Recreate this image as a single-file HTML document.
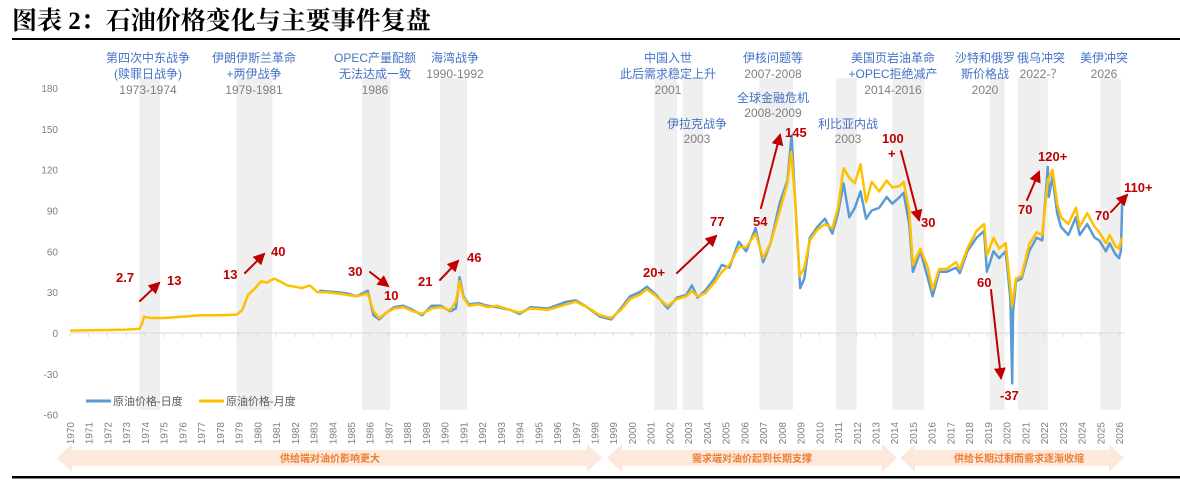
<!DOCTYPE html>
<html><head><meta charset="utf-8"><style>
body{margin:0;background:#fff;}
svg{display:block;font-family:"Liberation Sans","Noto Sans CJK SC",sans-serif;}
</style></head><body>
<svg id="chart" width="1180" height="484" viewBox="0 0 1180 484" xmlns="http://www.w3.org/2000/svg">
<text x="12" y="29" font-family="'Liberation Serif','Noto Serif CJK SC',serif" font-weight="bold" font-size="25" fill="#000">图表 2：石油价格变化与主要事件复盘</text>
<rect x="12" y="38" width="1168" height="2" fill="#000"/>
<g id="bands"></g><g id="axes"></g><g id="series"></g>
<g id="events" font-size="12" text-anchor="middle">
<g><text x="148" y="62" fill="#4472C4">第四次中东战争</text><text x="148" y="78" fill="#4472C4">(赎罪日战争)</text><text x="148" y="94" fill="#7f7f7f">1973-1974</text></g>
<g><text x="254" y="62" fill="#4472C4">伊朗伊斯兰革命</text><text x="254" y="78" fill="#4472C4">+两伊战争</text><text x="254" y="94" fill="#7f7f7f">1979-1981</text></g>
<g><text x="375" y="62" fill="#4472C4">OPEC产量配额</text><text x="375" y="78" fill="#4472C4">无法达成一致</text><text x="375" y="94" fill="#7f7f7f">1986</text></g>
<g><text x="455" y="62" fill="#4472C4">海湾战争</text><text x="455" y="78" fill="#7f7f7f">1990-1992</text></g>
<g><text x="668" y="62" fill="#4472C4">中国入世</text><text x="668" y="78" fill="#4472C4">此后需求稳定上升</text><text x="668" y="94" fill="#7f7f7f">2001</text></g>
<g><text x="697" y="128" fill="#4472C4">伊拉克战争</text><text x="697" y="143" fill="#7f7f7f">2003</text></g>
<g><text x="773" y="62" fill="#4472C4">伊核问题等</text><text x="773" y="78" fill="#7f7f7f">2007-2008</text></g>
<g><text x="773" y="102" fill="#4472C4">全球金融危机</text><text x="773" y="117" fill="#7f7f7f">2008-2009</text></g>
<g><text x="848" y="128" fill="#4472C4">利比亚内战</text><text x="848" y="143" fill="#7f7f7f">2003</text></g>
<g><text x="893" y="62" fill="#4472C4">美国页岩油革命</text><text x="893" y="78" fill="#4472C4">+OPEC拒绝减产</text><text x="893" y="94" fill="#7f7f7f">2014-2016</text></g>
<g><text x="985" y="62" fill="#4472C4">沙特和俄罗</text><text x="985" y="78" fill="#4472C4">斯价格战</text><text x="985" y="94" fill="#7f7f7f">2020</text></g>
<g><text x="1041" y="62" fill="#4472C4">俄乌冲突</text><text x="1041" y="78" fill="#7f7f7f">2022-？</text></g>
<g><text x="1104" y="62" fill="#4472C4">美伊冲突</text><text x="1104" y="78" fill="#7f7f7f">2026</text></g>
</g>
<defs><marker id="ah" markerWidth="6" markerHeight="6" refX="5" refY="3" orient="auto"><path d="M0,0L6,3L0,6z" fill="#C00000"/></marker></defs>
<g id="notes" font-size="13" font-weight="bold" fill="#C00000" stroke-linecap="round">
<text x="116" y="282">2.7</text>
<line x1="140" y1="301" x2="159" y2="283" stroke="#C00000" stroke-width="2" marker-end="url(#ah)"/>
<text x="167" y="285">13</text>
<text x="223" y="279">13</text>
<line x1="245" y1="273" x2="264" y2="254" stroke="#C00000" stroke-width="2" marker-end="url(#ah)"/>
<text x="271" y="256">40</text>
<text x="348" y="276">30</text>
<line x1="370" y1="272" x2="388" y2="286" stroke="#C00000" stroke-width="2" marker-end="url(#ah)"/>
<text x="384" y="300">10</text>
<text x="418" y="286">21</text>
<line x1="440" y1="280" x2="458" y2="261" stroke="#C00000" stroke-width="2" marker-end="url(#ah)"/>
<text x="467" y="262">46</text>
<text x="643" y="277">20+</text>
<line x1="677" y1="273" x2="716" y2="236" stroke="#C00000" stroke-width="2" marker-end="url(#ah)"/>
<text x="710" y="226">77</text>
<text x="753" y="226">54</text>
<line x1="761" y1="208" x2="780" y2="135" stroke="#C00000" stroke-width="2" marker-end="url(#ah)"/>
<text x="785" y="137">145</text>
<text x="882" y="143">100</text>
<text x="888" y="158">+</text>
<line x1="901" y1="151" x2="919" y2="220" stroke="#C00000" stroke-width="2" marker-end="url(#ah)"/>
<text x="921" y="227">30</text>
<text x="977" y="287">60</text>
<line x1="991" y1="290" x2="1001" y2="378" stroke="#C00000" stroke-width="2" marker-end="url(#ah)"/>
<text x="1000" y="400">-37</text>
<text x="1018" y="214">70</text>
<line x1="1027" y1="200" x2="1039" y2="172" stroke="#C00000" stroke-width="2" marker-end="url(#ah)"/>
<text x="1038" y="161">120+</text>
<text x="1095" y="220">70</text>
<line x1="1111" y1="212" x2="1127" y2="195" stroke="#C00000" stroke-width="2" marker-end="url(#ah)"/>
<text x="1124" y="192">110+</text>
</g>
<g font-size="11" fill="#595959">
<line x1="86" y1="401" x2="111" y2="401" stroke="#5B9BD5" stroke-width="3"/>
<text x="113" y="405">原油价格-日度</text>
<line x1="199" y1="401" x2="224" y2="401" stroke="#FFC000" stroke-width="3"/>
<text x="226" y="405">原油价格-月度</text>
</g>
<g id="phases" font-size="10" font-weight="bold" fill="#ED7D31" text-anchor="middle">
<path d="M57,458L72,444L72,450L587,450L587,444L602,458L587,472L587,466L72,466L72,472Z" fill="#FCE9DC"/>
<text x="330" y="462">供给端对油价影响更大</text>
<path d="M607,458L622,444L622,450L882,450L882,444L897,458L882,472L882,466L622,466L622,472Z" fill="#FCE9DC"/>
<text x="752" y="462">需求端对油价起到长期支撑</text>
<path d="M900,458L915,444L915,450L1109,450L1109,444L1124,458L1109,472L1109,466L915,466L915,472Z" fill="#FCE9DC"/>
<text x="1019" y="462">供给长期过剩而需求逐渐收缩</text>
</g>
<rect x="12" y="476" width="1168" height="2.5" fill="#000"/>
</svg>
<script>
const yTicks=[180,150,120,90,60,30,0,-30,-60];
const bandStarts=[1973.7,1978.9,1985.6,1989.75,2001.2,2002.7,2006.8,2010.9,2013.9,2019.1,2020.6,2025.0];
const bandEnds=[1974.8,1980.8,1987.1,1991.2,2002.4,2003.8,2008.6,2012.0,2015.6,2019.9,2022.2,2026.1];
const monthlyT=[1970,1971,1972,1973,1973.7,1973.85,1973.95,1974.3,1975,1976,1977,1978,1978.9,1979.2,1979.5,1979.9,1980.2,1980.5,1980.9,1981.2,1981.6,1982,1982.4,1982.8,1983.2,1983.7,1984.3,1984.8,1985.3,1985.9,1986.2,1986.5,1986.9,1987.3,1987.8,1988.3,1988.8,1989.3,1989.8,1990.3,1990.6,1990.8,1991.0,1991.3,1991.8,1992.3,1992.8,1993.5,1994,1994.6,1995.5,1996.5,1997,1997.6,1998.3,1998.9,1999.4,1999.9,2000.4,2000.8,2001.3,2001.9,2002.4,2002.9,2003.2,2003.5,2003.9,2004.4,2004.8,2005.2,2005.7,2006.1,2006.6,2007.0,2007.4,2007.9,2008.3,2008.5,2008.7,2008.95,2009.2,2009.5,2009.9,2010.3,2010.7,2011.0,2011.3,2011.6,2011.9,2012.2,2012.5,2012.8,2013.2,2013.6,2013.9,2014.3,2014.5,2014.8,2015.0,2015.4,2015.8,2016.05,2016.4,2016.8,2017.3,2017.5,2017.9,2018.4,2018.8,2018.95,2019.3,2019.6,2019.95,2020.2,2020.3,2020.5,2020.8,2021.2,2021.6,2021.9,2022.2,2022.45,2022.7,2022.9,2023.3,2023.7,2023.9,2024.3,2024.7,2024.95,2025.3,2025.5,2025.8,2026.0,2026.15];
const monthlyV=[1.8,2.0,2.2,2.5,3,7,12,11,11,12,13,13,13.5,17,28,33,38,37,40,38,35,34,33,35,30,30,29,28,27,29,16,11,15,18,19,16,14,18,19,17,23,38,26,20,21,19,20,17,15,18,17,21,23,19,13,11,17,25,28,32,27,20,25,27,31,27,29,37,45,50,63,63,73,55,66,90,110,133,100,42,48,68,76,80,77,92,121,114,110,124,96,111,104,112,107,108,111,90,50,62,48,32,47,47,52,47,62,75,80,57,70,62,66,33,20,40,42,65,74,72,112,120,95,85,80,92,78,88,78,74,66,72,64,62,70];
const dailyT=[1983.3,1984.3,1984.8,1985.3,1985.9,1986.2,1986.5,1986.9,1987.3,1987.8,1988.3,1988.8,1989.3,1989.8,1990.3,1990.6,1990.8,1991.0,1991.3,1991.8,1992.3,1992.8,1993.5,1994,1994.6,1995.5,1996.5,1997,1997.6,1998.3,1998.9,1999.4,1999.9,2000.4,2000.8,2001.3,2001.9,2002.4,2002.9,2003.2,2003.5,2003.9,2004.4,2004.8,2005.2,2005.7,2006.1,2006.6,2007.0,2007.4,2007.9,2008.3,2008.52,2008.7,2008.98,2009.2,2009.5,2009.9,2010.3,2010.7,2011.0,2011.3,2011.6,2011.9,2012.2,2012.5,2012.8,2013.2,2013.6,2013.9,2014.3,2014.5,2014.8,2015.0,2015.4,2015.8,2016.05,2016.4,2016.8,2017.3,2017.5,2017.9,2018.4,2018.8,2018.95,2019.3,2019.6,2019.95,2020.2,2020.3,2020.34,2020.5,2020.8,2021.2,2021.6,2021.9,2022.2,2022.25,2022.45,2022.7,2022.9,2023.3,2023.7,2023.9,2024.3,2024.7,2024.95,2025.3,2025.5,2025.8,2026.0,2026.1,2026.17];
const dailyV=[31,30,29,27,31,13,10,15,19,20,17,13,20,20,16,18,41,27,21,22,20,19,17,14,19,18,23,24,19,12,10,18,27,30,34,28,18,26,28,35,26,31,40,50,48,67,60,77,52,66,96,112,145,100,33,40,70,78,84,73,88,110,85,92,104,84,90,92,100,95,100,103,80,45,60,40,27,45,45,48,44,60,70,75,45,60,55,60,25,-37,15,38,40,60,70,68,122,100,115,88,78,72,85,72,80,70,68,60,66,58,55,60,96];
const NS="http://www.w3.org/2000/svg";
const x=t=>70+(t-1970)*(1049/56);
const y=v=>333-v*(245/180);
function mk(tag,attrs,parent){const e=document.createElementNS(NS,tag);for(const k in attrs)e.setAttribute(k,attrs[k]);parent.appendChild(e);return e;}
const bands=document.getElementById('bands');
bandStarts.forEach((s,i)=>{
  const r=mk('rect',{x:x(s),y:78,width:x(bandEnds[i])-x(s),height:333-78+77,fill:'#EFEFEF'},bands);
  
  
});
const axes=document.getElementById('axes');
yTicks.forEach(v=>{
  const t=mk('text',{x:58,y:y(v)+4,'text-anchor':'end','font-size':'10',fill:'#7f7f7f'},axes);
  t.textContent=v;
  
  
});
const ax=mk('line',{x1:70,y1:333,x2:1125,y2:333,stroke:'#D9D9D9','stroke-width':1},axes);


for(let yr=1970;yr<=2026;yr++){
  const tk=mk('line',{x1:x(yr),y1:333,x2:x(yr),y2:337,stroke:'#D9D9D9'},axes);
  
  
  const t=mk('text',{x:0,y:0,'text-anchor':'end','font-size':'10',fill:'#7f7f7f',transform:`translate(${x(yr)+4},422) rotate(-90)`},axes);
  t.textContent=yr;
  
  
}
const series=document.getElementById('series');
const pd=dailyT.map((t,i)=>x(t).toFixed(1)+','+y(dailyV[i]).toFixed(1)).join(' ');
const dl=mk('polyline',{points:pd,fill:'none',stroke:'#5B9BD5','stroke-width':2.5,'stroke-linejoin':'round'},series);


const pm=monthlyT.map((t,i)=>x(t).toFixed(1)+','+y(monthlyV[i]).toFixed(1)).join(' ');
const ml=mk('polyline',{points:pm,fill:'none',stroke:'#FFC000','stroke-width':2.5,'stroke-linejoin':'round'},series);


</script>
</body></html>
